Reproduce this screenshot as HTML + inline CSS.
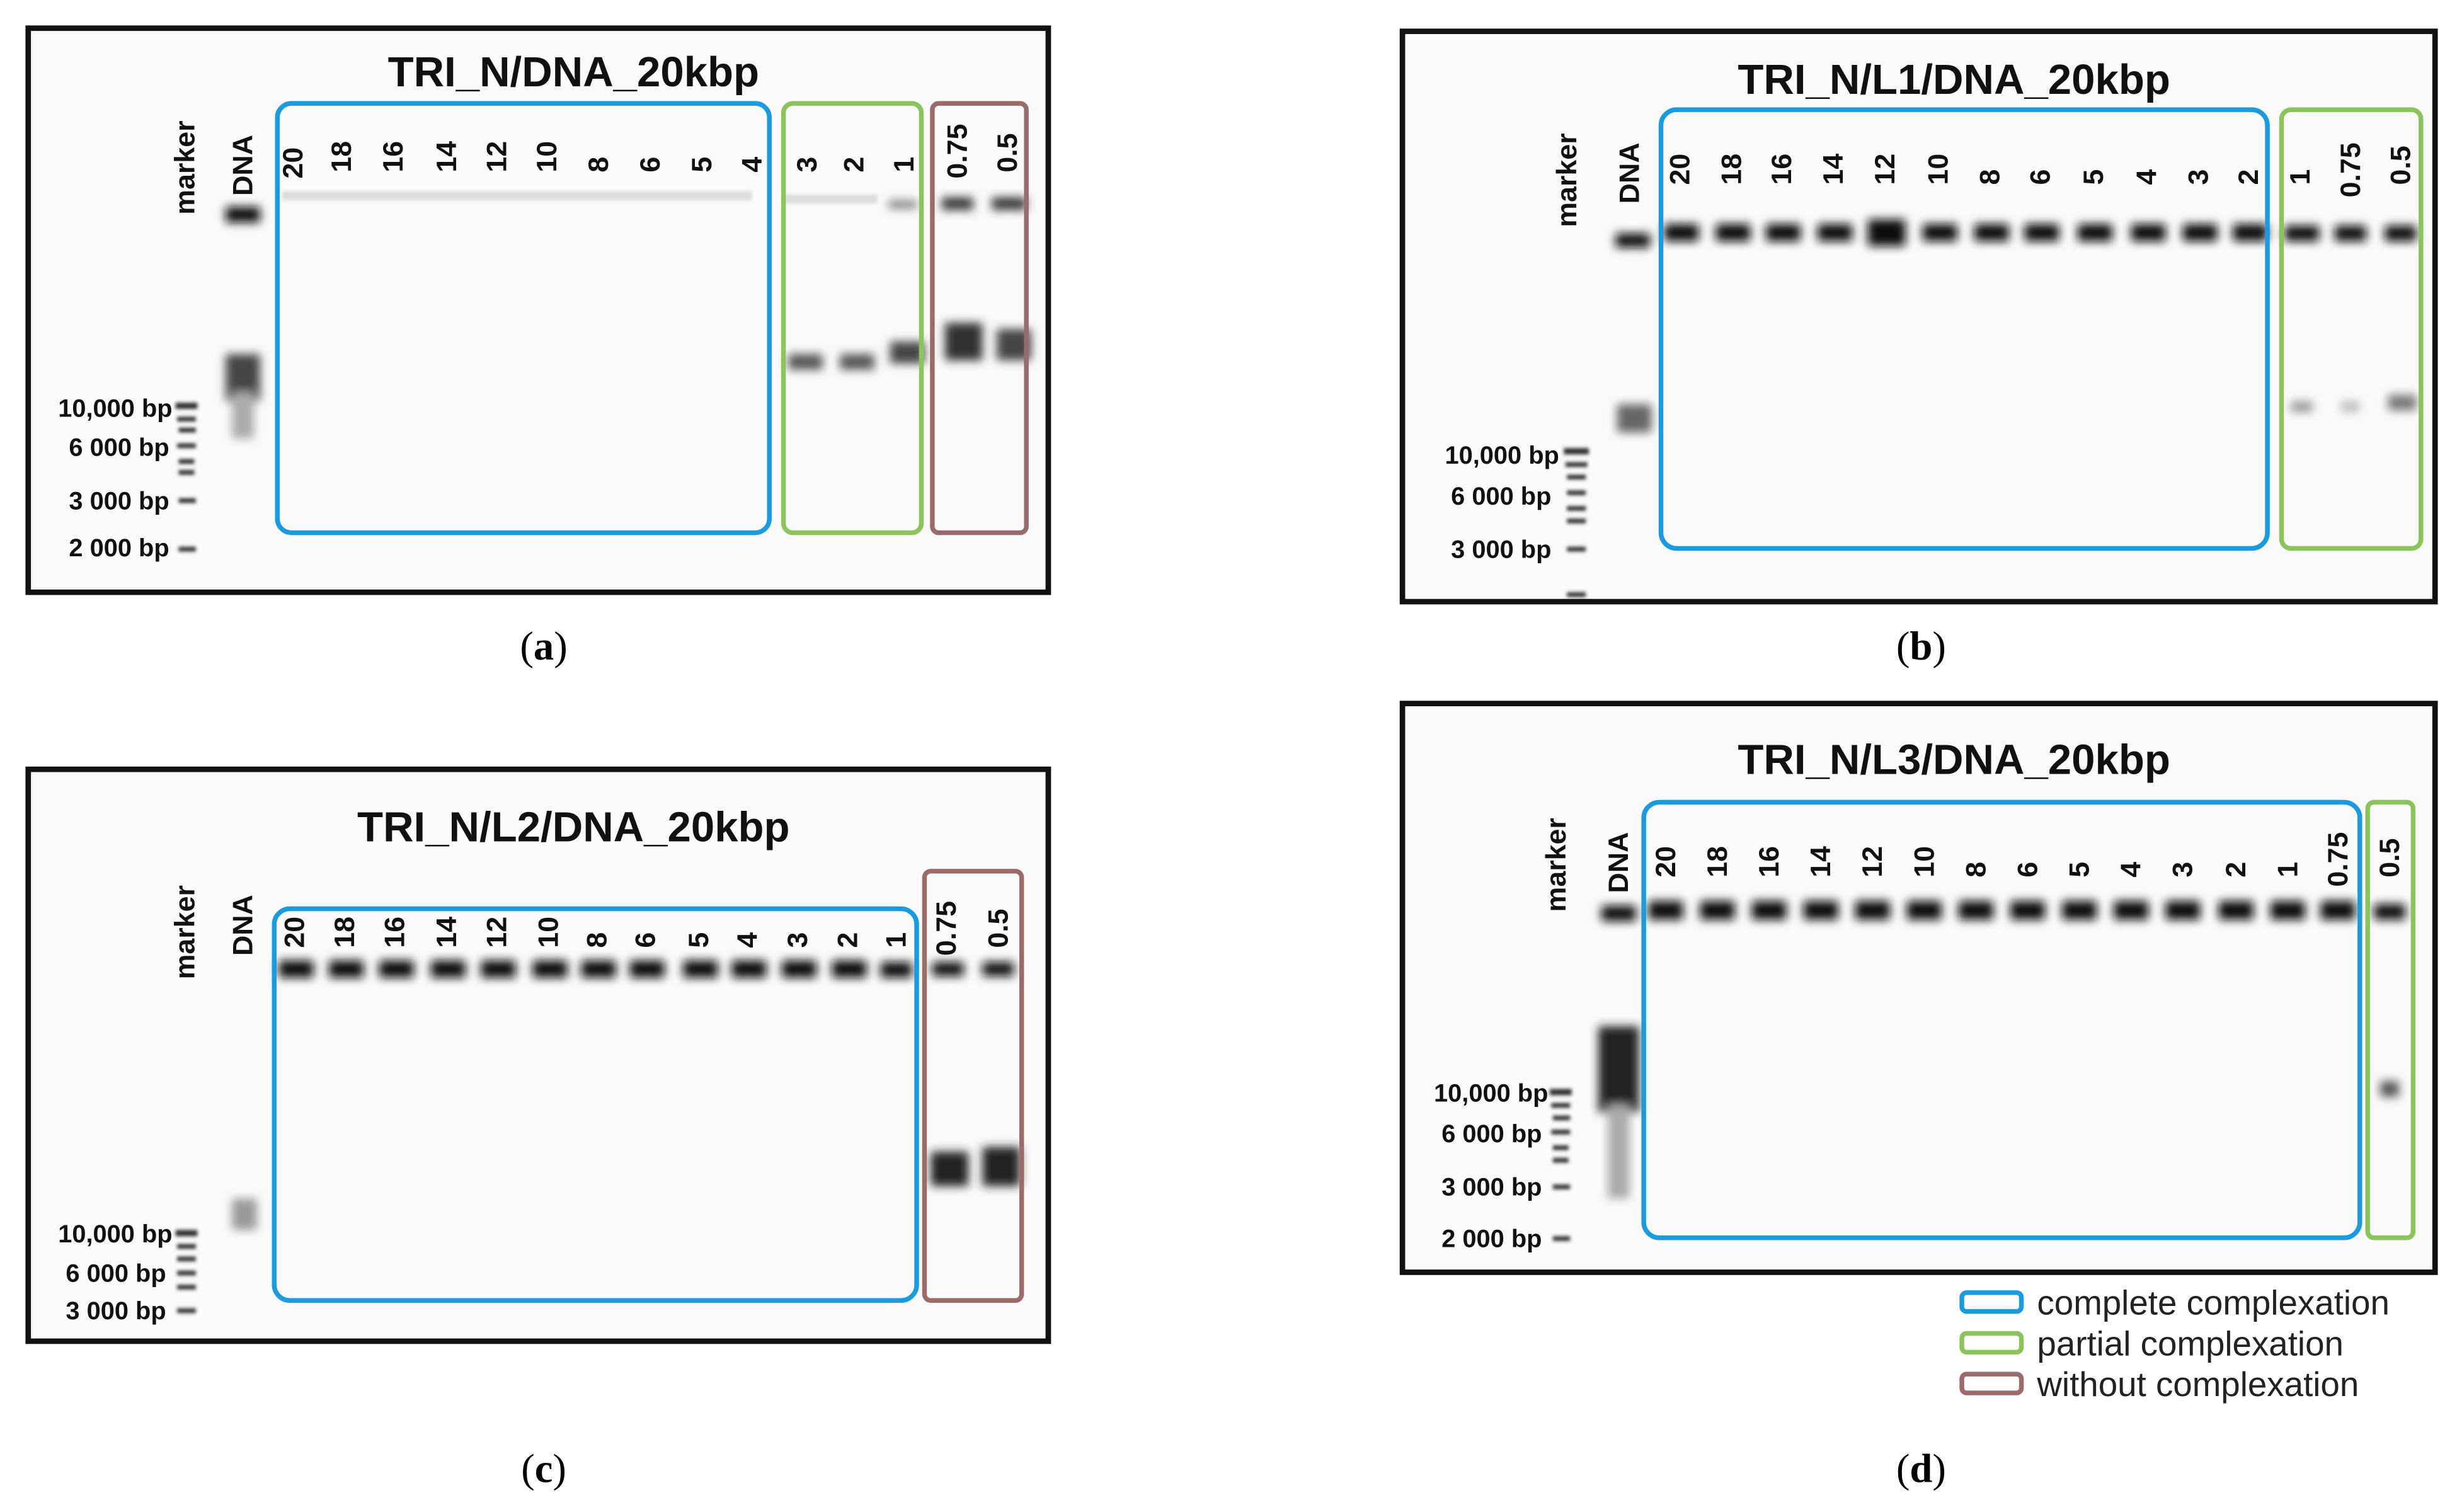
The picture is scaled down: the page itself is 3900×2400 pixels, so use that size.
<!DOCTYPE html>
<html><head><meta charset="utf-8"><style>
html,body{margin:0;padding:0;background:#fff;}
svg{display:block;}
.t{font-family:"Liberation Sans",sans-serif;font-weight:bold;fill:#111;}
.c{font-family:"Liberation Serif",serif;font-size:26px;fill:#000;}
.lg{font-family:"Liberation Sans",sans-serif;font-size:22px;fill:#222;}
</style></head><body>
<svg width="3900" height="2400" viewBox="0 0 1568 965" preserveAspectRatio="none" xmlns="http://www.w3.org/2000/svg">
<defs>
<filter id="b1" x="-50%" y="-50%" width="200%" height="200%"><feGaussianBlur stdDeviation="1.2"/></filter>
<filter id="b3" x="-50%" y="-50%" width="200%" height="200%"><feGaussianBlur stdDeviation="3"/></filter>
</defs>
<rect width="1568" height="965" fill="#fff"/>

<!-- Panel a -->
<rect x="18" y="18" width="651" height="360" fill="#fbfbfb" stroke="#111" stroke-width="3.5"/>
<text class="t" x="366" y="55" font-size="27" text-anchor="middle">TRI_N/DNA_20kbp</text>
<g class="t" font-size="18">
<text transform="translate(124,137) rotate(-90)">marker</text>
<text transform="translate(161,125) rotate(-90)">DNA</text>
<text transform="translate(193,114) rotate(-90)">20</text><text transform="translate(224,110) rotate(-90)">18</text>
<text transform="translate(257,110) rotate(-90)">16</text><text transform="translate(291,110) rotate(-90)">14</text>
<text transform="translate(323,110) rotate(-90)">12</text><text transform="translate(355,110) rotate(-90)">10</text>
<text transform="translate(388,110) rotate(-90)">8</text><text transform="translate(421,110) rotate(-90)">6</text>
<text transform="translate(454,110) rotate(-90)">5</text><text transform="translate(486,110) rotate(-90)">4</text>
<text transform="translate(521,110) rotate(-90)">3</text><text transform="translate(551,110) rotate(-90)">2</text>
<text transform="translate(583,110) rotate(-90)">1</text><text transform="translate(617,114) rotate(-90)">0.75</text>
<text transform="translate(649,110) rotate(-90)">0.5</text>
</g>
<g class="t" font-size="16" text-anchor="end">
<text x="110" y="266">10,000 bp</text><text x="108" y="291">6 000 bp</text>
<text x="108" y="325">3 000 bp</text><text x="108" y="355">2 000 bp</text>
</g>
<g fill="#333" filter="url(#b1)">
<rect x="112" y="257" width="14" height="4"/><rect x="113" y="266" width="12" height="3"/><rect x="114" y="273" width="11" height="3"/>
<rect x="113" y="283" width="12" height="3"/><rect x="114" y="293" width="10" height="3"/><rect x="114" y="300" width="10" height="3"/>
<rect x="114" y="318" width="11" height="3"/><rect x="114" y="349" width="11" height="3"/>
</g>
<g filter="url(#b3)">
<rect x="144" y="132" width="22" height="10" fill="#111"/>
<rect x="144" y="226" width="22" height="30" fill="#444"/>
<rect x="148" y="250" width="14" height="30" fill="#aaa"/>
<rect x="503" y="226" width="22" height="10" fill="#555"/><rect x="536" y="226" width="22" height="10" fill="#555"/>
<rect x="568" y="218" width="22" height="14" fill="#444"/>
<rect x="603" y="206" width="24" height="24" fill="#333"/><rect x="636" y="210" width="22" height="20" fill="#444"/>
<rect x="601" y="126" width="20" height="8" fill="#333"/><rect x="633" y="126" width="22" height="8" fill="#333"/>
<rect x="567" y="128" width="18" height="5" fill="#777"/>
</g>
<g fill="#ddd" filter="url(#b1)">
<rect x="180" y="122" width="300" height="6"/><rect x="500" y="124" width="60" height="6"/>
</g>
<rect x="177" y="66" width="314" height="274" rx="9" fill="none" stroke="#1a9be0" stroke-width="3"/>
<rect x="500" y="66" width="88" height="274" rx="6" fill="none" stroke="#8cc45c" stroke-width="3"/>
<rect x="595" y="66" width="60" height="274" rx="4" fill="none" stroke="#9b6b6b" stroke-width="3"/>

<!-- Panel b -->
<rect x="895" y="20" width="659" height="364" fill="#fbfbfb" stroke="#111" stroke-width="3.5"/>
<text class="t" x="1247" y="60" font-size="27" text-anchor="middle">TRI_N/L1/DNA_20kbp</text>
<g class="t" font-size="18">
<text transform="translate(1006,145) rotate(-90)">marker</text>
<text transform="translate(1046,130) rotate(-90)">DNA</text>
<text transform="translate(1078,118) rotate(-90)">20</text><text transform="translate(1111,118) rotate(-90)">18</text>
<text transform="translate(1143,118) rotate(-90)">16</text><text transform="translate(1176,118) rotate(-90)">14</text>
<text transform="translate(1209,118) rotate(-90)">12</text><text transform="translate(1243,118) rotate(-90)">10</text>
<text transform="translate(1276,118) rotate(-90)">8</text><text transform="translate(1308,118) rotate(-90)">6</text>
<text transform="translate(1342,118) rotate(-90)">5</text><text transform="translate(1376,118) rotate(-90)">4</text>
<text transform="translate(1409,118) rotate(-90)">3</text><text transform="translate(1441,118) rotate(-90)">2</text>
<text transform="translate(1474,118) rotate(-90)">1</text><text transform="translate(1506,126) rotate(-90)">0.75</text>
<text transform="translate(1538,118) rotate(-90)">0.5</text>
</g>
<g class="t" font-size="16" text-anchor="end">
<text x="995" y="296">10,000 bp</text><text x="990" y="322">6 000 bp</text><text x="990" y="356">3 000 bp</text>
</g>
<g fill="#333" filter="url(#b1)">
<rect x="998" y="286" width="16" height="4"/><rect x="999" y="295" width="14" height="3"/><rect x="1000" y="303" width="12" height="3"/>
<rect x="1000" y="313" width="12" height="3"/><rect x="1000" y="323" width="12" height="3"/><rect x="1000" y="331" width="12" height="3"/>
<rect x="1000" y="349" width="12" height="3"/><rect x="1000" y="378" width="12" height="3"/>
</g>
<g fill="#111" filter="url(#b3)">
<rect x="1031" y="149" width="22" height="9"/>
<rect x="1062" y="143" width="22" height="11"/><rect x="1095" y="143" width="22" height="11"/><rect x="1127" y="143" width="22" height="11"/>
<rect x="1160" y="143" width="22" height="11"/><rect x="1192" y="140" width="24" height="17"/><rect x="1227" y="143" width="22" height="11"/>
<rect x="1260" y="143" width="22" height="11"/><rect x="1292" y="143" width="22" height="11"/><rect x="1326" y="143" width="22" height="11"/>
<rect x="1360" y="143" width="22" height="11"/><rect x="1393" y="143" width="22" height="11"/><rect x="1425" y="143" width="22" height="11"/>
<rect x="1458" y="144" width="22" height="10"/><rect x="1490" y="144" width="20" height="10"/><rect x="1522" y="144" width="20" height="10"/>
<rect x="1032" y="258" width="22" height="18" fill="#666"/>
<rect x="1462" y="256" width="14" height="7" fill="#999"/><rect x="1494" y="256" width="12" height="7" fill="#bbb"/>
<rect x="1524" y="252" width="18" height="10" fill="#777"/>
</g>
<rect x="1060" y="70" width="387" height="280" rx="10" fill="none" stroke="#1a9be0" stroke-width="3"/>
<rect x="1456" y="70" width="89" height="280" rx="6" fill="none" stroke="#8cc45c" stroke-width="3"/>

<!-- Panel c -->
<rect x="18" y="491" width="651" height="365" fill="#fbfbfb" stroke="#111" stroke-width="3.5"/>
<text class="t" x="366" y="537" font-size="27" text-anchor="middle">TRI_N/L2/DNA_20kbp</text>
<g class="t" font-size="18">
<text transform="translate(124,625) rotate(-90)">marker</text>
<text transform="translate(161,610) rotate(-90)">DNA</text>
<text transform="translate(194,605) rotate(-90)">20</text><text transform="translate(226,605) rotate(-90)">18</text>
<text transform="translate(258,605) rotate(-90)">16</text><text transform="translate(291,605) rotate(-90)">14</text>
<text transform="translate(323,605) rotate(-90)">12</text><text transform="translate(356,605) rotate(-90)">10</text>
<text transform="translate(387,605) rotate(-90)">8</text><text transform="translate(418,605) rotate(-90)">6</text>
<text transform="translate(452,605) rotate(-90)">5</text><text transform="translate(483,605) rotate(-90)">4</text>
<text transform="translate(515,605) rotate(-90)">3</text><text transform="translate(547,605) rotate(-90)">2</text>
<text transform="translate(578,605) rotate(-90)">1</text><text transform="translate(610,610) rotate(-90)">0.75</text>
<text transform="translate(643,605) rotate(-90)">0.5</text>
</g>
<g class="t" font-size="16" text-anchor="end">
<text x="110" y="793">10,000 bp</text><text x="106" y="818">6 000 bp</text><text x="106" y="842">3 000 bp</text>
</g>
<g fill="#333" filter="url(#b1)">
<rect x="112" y="785" width="14" height="4"/><rect x="113" y="794" width="12" height="3"/><rect x="113" y="802" width="12" height="3"/>
<rect x="113" y="811" width="12" height="3"/><rect x="113" y="820" width="12" height="3"/><rect x="113" y="835" width="12" height="3"/>
</g>
<g fill="#111" filter="url(#b3)">
<rect x="178" y="613" width="22" height="11"/><rect x="210" y="613" width="22" height="11"/><rect x="242" y="613" width="22" height="11"/>
<rect x="275" y="613" width="22" height="11"/><rect x="307" y="613" width="22" height="11"/><rect x="340" y="613" width="22" height="11"/>
<rect x="371" y="613" width="22" height="11"/><rect x="402" y="613" width="22" height="11"/><rect x="436" y="613" width="22" height="11"/>
<rect x="467" y="613" width="22" height="11"/><rect x="499" y="613" width="22" height="11"/><rect x="531" y="613" width="22" height="11"/>
<rect x="562" y="614" width="20" height="10"/><rect x="595" y="614" width="20" height="9"/><rect x="627" y="614" width="20" height="9"/>
<rect x="594" y="735" width="24" height="22" fill="#222"/><rect x="627" y="732" width="24" height="25" fill="#222"/>
<rect x="148" y="765" width="16" height="20" fill="#999"/>
</g>
<rect x="175" y="580" width="410" height="250" rx="10" fill="none" stroke="#1a9be0" stroke-width="3"/>
<rect x="590" y="556" width="62" height="274" rx="4" fill="none" stroke="#9b6b6b" stroke-width="3"/>

<!-- Panel d -->
<rect x="895" y="449" width="659" height="363" fill="#fbfbfb" stroke="#111" stroke-width="3.5"/>
<text class="t" x="1247" y="494" font-size="27" text-anchor="middle">TRI_N/L3/DNA_20kbp</text>
<g class="t" font-size="18">
<text transform="translate(999,582) rotate(-90)">marker</text>
<text transform="translate(1039,570) rotate(-90)">DNA</text>
<text transform="translate(1069,560) rotate(-90)">20</text><text transform="translate(1102,560) rotate(-90)">18</text>
<text transform="translate(1135,560) rotate(-90)">16</text><text transform="translate(1168,560) rotate(-90)">14</text>
<text transform="translate(1201,560) rotate(-90)">12</text><text transform="translate(1234,560) rotate(-90)">10</text>
<text transform="translate(1267,560) rotate(-90)">8</text><text transform="translate(1300,560) rotate(-90)">6</text>
<text transform="translate(1333,560) rotate(-90)">5</text><text transform="translate(1366,560) rotate(-90)">4</text>
<text transform="translate(1399,560) rotate(-90)">3</text><text transform="translate(1433,560) rotate(-90)">2</text>
<text transform="translate(1466,560) rotate(-90)">1</text><text transform="translate(1498,566) rotate(-90)">0.75</text>
<text transform="translate(1531,560) rotate(-90)">0.5</text>
</g>
<g class="t" font-size="16" text-anchor="end">
<text x="988" y="703">10,000 bp</text><text x="984" y="729">6 000 bp</text>
<text x="984" y="763">3 000 bp</text><text x="984" y="796">2 000 bp</text>
</g>
<g fill="#333" filter="url(#b1)">
<rect x="989" y="695" width="14" height="4"/><rect x="990" y="704" width="12" height="3"/><rect x="991" y="712" width="11" height="3"/>
<rect x="990" y="721" width="12" height="3"/><rect x="991" y="731" width="10" height="3"/><rect x="991" y="739" width="10" height="3"/>
<rect x="991" y="756" width="11" height="3"/><rect x="991" y="789" width="11" height="3"/>
</g>
<g fill="#111" filter="url(#b3)">
<rect x="1022" y="578" width="22" height="10"/>
<rect x="1052" y="575" width="22" height="12"/><rect x="1085" y="575" width="22" height="12"/><rect x="1118" y="575" width="22" height="12"/>
<rect x="1151" y="575" width="22" height="12"/><rect x="1184" y="575" width="22" height="12"/><rect x="1217" y="575" width="22" height="12"/>
<rect x="1250" y="575" width="22" height="12"/><rect x="1283" y="575" width="22" height="12"/><rect x="1316" y="575" width="22" height="12"/>
<rect x="1349" y="575" width="22" height="12"/><rect x="1382" y="575" width="22" height="12"/><rect x="1416" y="575" width="22" height="12"/>
<rect x="1449" y="575" width="22" height="12"/><rect x="1481" y="575" width="22" height="12"/><rect x="1515" y="577" width="20" height="10"/>
<rect x="1020" y="655" width="26" height="55" fill="#222"/>
<rect x="1026" y="705" width="14" height="60" fill="#aaa"/>
<rect x="1519" y="690" width="12" height="10" fill="#555"/>
</g>
<rect x="1049" y="512" width="457" height="278" rx="10" fill="none" stroke="#1a9be0" stroke-width="3"/>
<rect x="1511" y="512" width="29" height="278" rx="4" fill="none" stroke="#8cc45c" stroke-width="3"/>

<!-- Legend -->
<rect x="1252" y="825" width="38" height="12" rx="3" fill="none" stroke="#1a9be0" stroke-width="3"/>
<rect x="1252" y="851" width="38" height="12" rx="3" fill="none" stroke="#8cc45c" stroke-width="3"/>
<rect x="1252" y="877" width="38" height="12" rx="3" fill="none" stroke="#9b6b6b" stroke-width="3"/>
<text class="lg" x="1300" y="839">complete complexation</text>
<text class="lg" x="1300" y="865">partial complexation</text>
<text class="lg" x="1300" y="891">without  complexation</text>

<!-- Captions -->
<text class="c" x="347" y="421" text-anchor="middle">(<tspan font-weight="bold">a</tspan>)</text>
<text class="c" x="1226" y="421" text-anchor="middle">(<tspan font-weight="bold">b</tspan>)</text>
<text class="c" x="347" y="946" text-anchor="middle">(<tspan font-weight="bold">c</tspan>)</text>
<text class="c" x="1226" y="946" text-anchor="middle">(<tspan font-weight="bold">d</tspan>)</text>
</svg>
</body></html>
